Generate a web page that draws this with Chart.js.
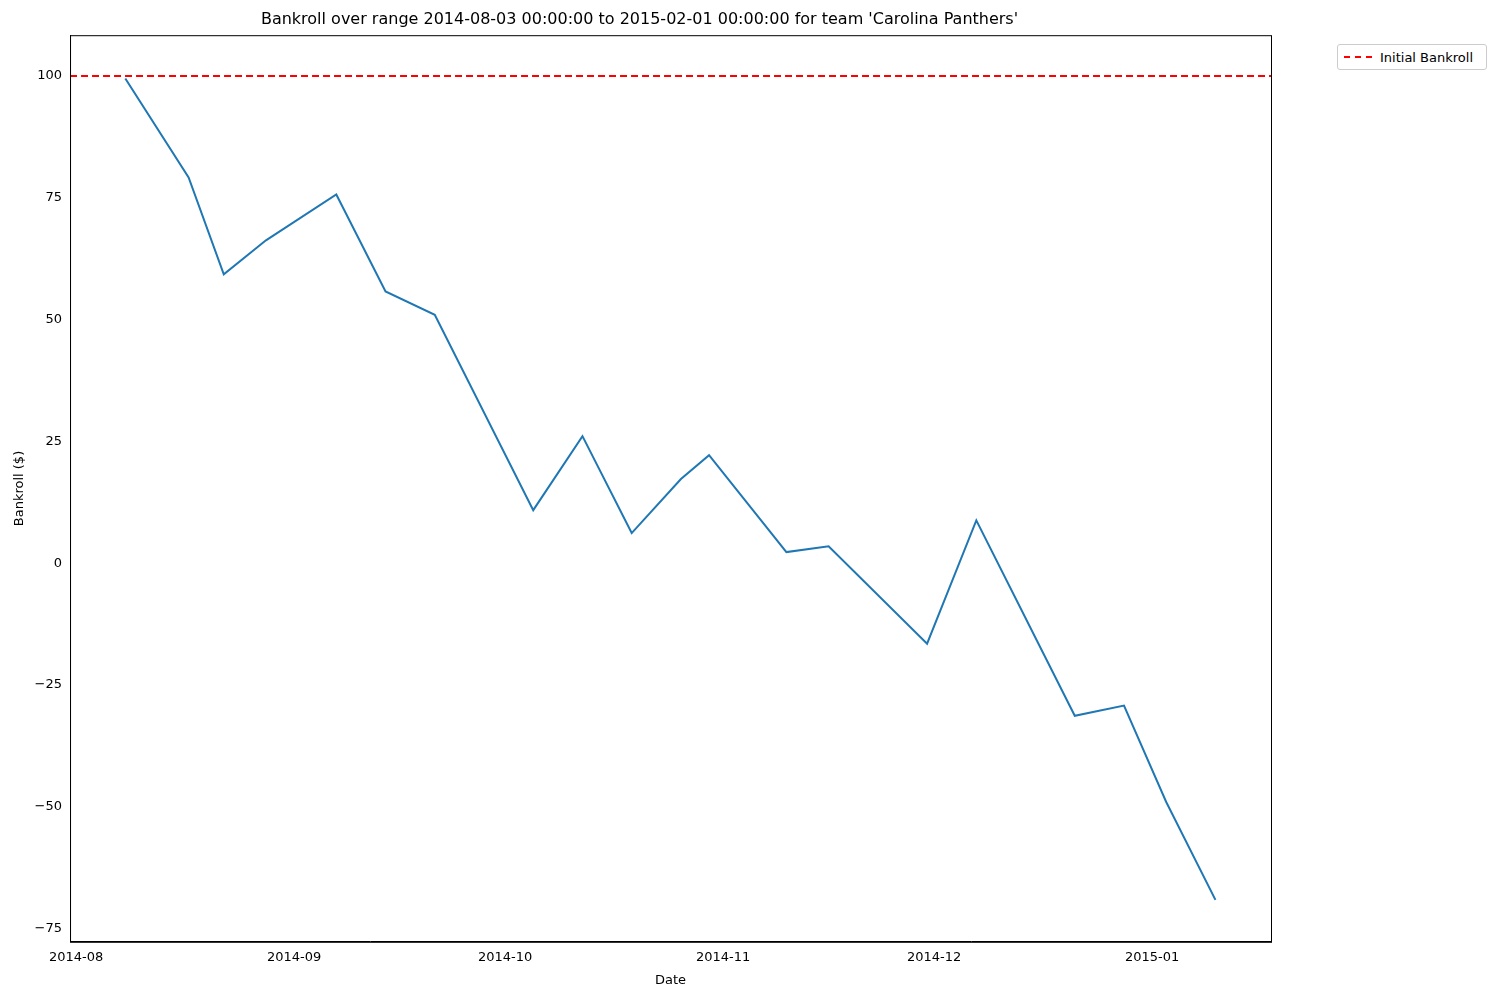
<!DOCTYPE html>
<html>
<head>
<meta charset="utf-8">
<script src="https://cdn.jsdelivr.net/npm/chart.js@4"></script>
<style>
body { margin: 0; background: #fff; font-family: "DejaVu Sans", sans-serif; }
#wrap { position: relative; width: 1500px; height: 1000px; }
#legend { position: absolute; left: 1337px; top: 44px; width: 148px; height: 24px; border: 1px solid #ccc; border-radius: 3px; font-size: 13px; display: flex; align-items: center; background: #fff; }
#legend span.line { display: inline-block; width: 28px; border-top: 2px dashed red; margin: 0 8px 0 6px; }
</style>
</head>
<body>
<div id="wrap">
<canvas id="chart" width="1500" height="1000"></canvas>
<div id="legend"><span class="line"></span>Initial Bankroll</div>
</div>
<script>
// bankroll per game
const dates = ["2014-08-08", "2014-08-17", "2014-08-22", "2014-08-28", "2014-09-07", "2014-09-14", "2014-09-21",
    "2014-10-05", "2014-10-12", "2014-10-19", "2014-10-26", "2014-10-30", "2014-11-10", "2014-11-16",
    "2014-11-30", "2014-12-07", "2014-12-21", "2014-12-28", "2015-01-03", "2015-01-10"];
const bankroll = [99.5, 79.2, 59.3, 66.3, 75.7, 55.8, 51.0, 10.9, 26.1, 6.2, 17.3, 22.2, 2.3, 3.5,
    -16.5, 8.8, -31.3, -29.2, -49.0, -69.1];
const initialBankroll = 100;
const tickDates = ["2014-08", "2014-09", "2014-10", "2014-11", "2014-12", "2015-01"];
const yTicks = [-75, -50, -25, 0, 25, 50, 75, 100];

const origin = Date.UTC(2014, 7, 1);
const dayOf = s => {
    const p = s.split("-").map(Number);
    return (Date.UTC(p[0], p[1] - 1, p[2] || 1) - origin) / 86400000;
};
const xMin = -0.86, xMax = 169.9;

const frame = {
    id: "frame",
    afterDraw(c) {
        const a = c.chartArea, g = c.ctx;
        g.save(); g.strokeStyle = "#000"; g.lineWidth = 1;
        g.strokeRect(a.left + 0.5, a.top + 0.5, a.right - a.left, a.bottom - a.top);
        g.restore();
    }
};

Chart.defaults.font.family = "'DejaVu Sans', sans-serif";
Chart.defaults.color = "#000";
new Chart(document.getElementById("chart").getContext("2d"), {
    type: "line",
    data: {
        datasets: [{
            data: dates.map((d, i) => ({ x: dayOf(d), y: bankroll[i] })),
            borderColor: "#1f77b4", borderWidth: 2, pointRadius: 0, tension: 0
        }, {
            data: [{ x: xMin, y: initialBankroll }, { x: xMax, y: initialBankroll }],
            borderColor: "red", borderWidth: 2, borderDash: [7, 4], pointRadius: 0
        }]
    },
    plugins: [frame],
    options: {
        responsive: false, animation: false, devicePixelRatio: 1,
        layout: { padding: { top: 6, right: 229, left: 8, bottom: 8 } },
        plugins: {
            legend: { display: false }, tooltip: { enabled: false },
            title: { display: true, text: "Bankroll over range 2014-08-03 00:00:00 to 2015-02-01 00:00:00 for team 'Carolina Panthers'",
                font: { size: 16, weight: "normal" }, padding: { top: 4, bottom: 6 } }
        },
        scales: {
            x: {
                type: "linear", min: xMin, max: xMax,
                afterBuildTicks: s => { s.ticks = tickDates.map(t => ({ value: dayOf(t) })); },
                ticks: { font: { size: 13 }, maxRotation: 0, callback: v => tickDates.find(t => dayOf(t) === v) },
                grid: { display: false, drawTicks: true, tickLength: 5 },
                border: { color: "#000" },
                title: { display: true, text: "Date", font: { size: 13 } }
            },
            y: {
                min: -77.7, max: 108.4,
                afterBuildTicks: s => { s.ticks = yTicks.map(v => ({ value: v })); },
                ticks: { font: { size: 13 }, callback: v => v < 0 ? "\u2212" + Math.abs(v) : v },
                grid: { display: false, tickLength: 5 },
                border: { color: "#000" },
                title: { display: true, text: "Bankroll ($)", font: { size: 13 } }
            }
        }
    }
});
</script>
</body>
</html>
